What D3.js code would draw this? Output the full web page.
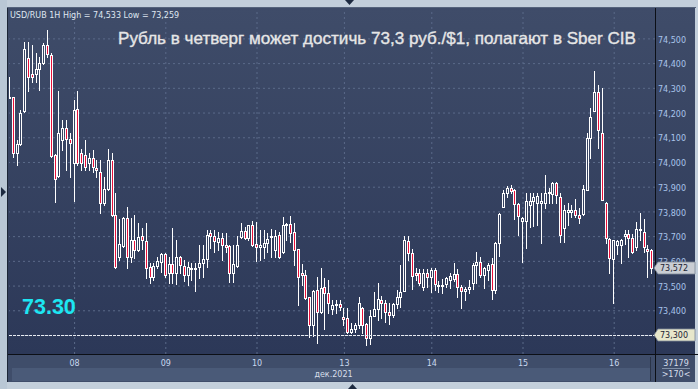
<!DOCTYPE html>
<html><head><meta charset="utf-8">
<script src="https://cdn.jsdelivr.net/npm/d3@7"></script>
<style>html,body{margin:0;padding:0;background:#c3cfdb;overflow:hidden}svg{display:block}</style>
</head><body><svg id="c" width="698" height="389"></svg>
<script>
const open=[
74.263,74.263,74.036,74.073,74.206,74.420,74.356,74.356,74.376,74.400,
74.473,74.433,74.028,73.943,74.089,74.137,74.093,73.996,74.214,74.036,
74.028,73.996,74.016,73.976,73.959,73.834,73.891,74.008,73.785,73.616,
73.660,73.773,73.616,73.684,73.644,73.700,73.680,73.575,73.535,73.579,
73.595,73.628,73.551,73.587,73.551,73.616,73.579,73.543,73.567,73.567,
73.575,73.591,73.607,73.713,73.700,73.676,73.692,73.664,73.660,73.551,
73.579,73.696,73.721,73.692,73.745,73.668,73.656,73.656,73.672,73.696,
73.644,73.705,73.636,73.745,73.749,73.717,73.648,73.551,73.543,73.454,
73.340,73.482,73.393,73.494,73.470,73.405,73.421,73.425,73.373,73.369,
73.312,73.324,73.340,73.409,73.344,73.288,73.377,73.405,73.442,73.429,
73.393,73.381,73.425,73.454,73.478,73.680,73.632,73.551,73.551,73.494,
73.551,73.535,73.563,73.498,73.498,73.506,73.522,73.527,73.547,73.494,
73.478,73.486,73.510,73.583,73.595,73.543,73.563,73.587,73.482,73.672,
73.818,73.874,73.895,73.887,73.830,73.761,73.761,73.826,73.842,73.834,
73.834,73.834,73.874,73.870,73.915,73.858,73.733,73.798,73.798,73.806,
73.785,73.789,73.887,74.097,74.206,74.283,74.117,73.834,73.688,73.607,
73.664,73.664,73.700,73.709,73.692,73.656,73.725,73.717,73.648,73.644];
const close=[
74.263,74.036,74.073,74.198,74.457,74.344,74.344,74.376,74.400,74.473,
74.437,74.024,73.931,74.117,74.137,74.093,74.077,74.210,73.996,73.996,
73.980,74.016,73.980,73.967,73.834,73.891,74.008,73.785,73.575,73.668,
73.773,73.616,73.684,73.644,73.696,73.684,73.571,73.535,73.579,73.599,
73.628,73.543,73.587,73.551,73.616,73.583,73.543,73.575,73.571,73.571,
73.591,73.607,73.705,73.700,73.680,73.692,73.664,73.656,73.551,73.587,
73.664,73.721,73.692,73.745,73.664,73.656,73.664,73.672,73.688,73.700,
73.700,73.616,73.745,73.749,73.713,73.644,73.535,73.543,73.450,73.340,
73.478,73.393,73.490,73.470,73.429,73.421,73.425,73.413,73.365,73.312,
73.324,73.340,73.429,73.340,73.288,73.377,73.405,73.446,73.429,73.393,
73.381,73.425,73.454,73.474,73.684,73.632,73.539,73.543,73.510,73.551,
73.535,73.563,73.506,73.502,73.502,73.531,73.539,73.547,73.494,73.478,
73.486,73.494,73.583,73.595,73.543,73.571,73.583,73.482,73.672,73.789,
73.874,73.895,73.882,73.830,73.781,73.773,73.842,73.842,73.858,73.862,
73.842,73.874,73.878,73.915,73.866,73.705,73.806,73.806,73.806,73.785,
73.773,73.891,74.097,74.182,74.283,74.129,73.846,73.692,73.611,73.684,
73.680,73.684,73.709,73.692,73.636,73.729,73.729,73.656,73.640,73.572];
const high=[
74.344,74.263,74.089,74.210,74.485,74.485,74.473,74.441,74.425,74.481,
74.533,74.441,74.032,74.287,74.170,74.170,74.117,74.251,74.287,74.052,
74.089,74.036,74.048,74.008,74.008,73.939,74.052,74.036,73.874,73.769,
73.777,73.818,73.773,73.785,73.753,73.733,73.753,73.591,73.591,73.616,
73.632,73.632,73.616,73.733,73.684,73.620,73.603,73.595,73.591,73.591,
73.664,73.664,73.725,73.725,73.725,73.717,73.713,73.713,73.664,73.664,
73.700,73.753,73.737,73.745,73.761,73.757,73.725,73.725,73.713,73.729,
73.725,73.717,73.777,73.753,73.781,73.753,73.648,73.587,73.563,73.454,
73.482,73.535,73.571,73.531,73.522,73.442,73.442,73.442,73.409,73.409,
73.349,73.349,73.454,73.413,73.349,73.401,73.474,73.510,73.458,73.442,
73.429,73.429,73.482,73.583,73.700,73.700,73.648,73.571,73.567,73.567,
73.567,73.571,73.571,73.518,73.527,73.535,73.551,73.591,73.567,73.502,
73.494,73.522,73.591,73.636,73.616,73.575,73.591,73.611,73.676,73.793,
73.887,73.903,73.907,73.891,73.834,73.777,73.874,73.874,73.874,73.874,
73.874,73.947,73.895,73.919,73.919,73.874,73.826,73.834,73.826,73.850,
73.814,73.907,74.117,74.218,74.368,74.311,74.299,73.838,73.692,73.684,
73.684,73.688,73.725,73.725,73.709,73.757,73.793,73.769,73.664,73.648];
const low=[
74.263,74.020,73.988,74.069,74.202,74.287,74.323,74.323,74.291,74.396,
74.425,74.020,73.838,73.939,74.048,73.967,73.939,73.842,73.988,73.967,
73.967,73.967,73.959,73.939,73.793,73.826,73.887,73.781,73.571,73.603,
73.656,73.571,73.595,73.611,73.640,73.648,73.531,73.510,73.522,73.571,
73.555,73.535,73.510,73.510,73.506,73.551,73.518,73.502,73.522,73.478,
73.531,73.535,73.575,73.652,73.636,73.644,73.603,73.636,73.514,73.514,
73.575,73.692,73.688,73.684,73.660,73.599,73.603,73.611,73.636,73.616,
73.616,73.611,73.632,73.684,73.676,73.583,73.421,73.502,73.446,73.292,
73.296,73.268,73.389,73.324,73.389,73.385,73.389,73.401,73.340,73.308,
73.308,73.312,73.328,73.308,73.259,73.262,73.377,73.361,73.369,73.353,
73.344,73.373,73.409,73.413,73.478,73.603,73.486,73.522,73.502,73.482,
73.494,73.474,73.482,73.474,73.470,73.494,73.490,73.518,73.454,73.409,
73.442,73.470,73.486,73.510,73.535,73.490,73.522,73.446,73.470,73.620,
73.818,73.858,73.874,73.769,73.705,73.595,73.652,73.737,73.741,73.745,
73.672,73.814,73.834,73.834,73.834,73.676,73.676,73.745,73.777,73.777,
73.753,73.785,73.887,74.016,74.206,74.056,73.846,73.672,73.551,73.429,
73.628,73.591,73.668,73.616,73.632,73.644,73.684,73.636,73.535,73.551];
const dayLabels=["08","09","10","13","14","15","16"];
const dayIndex=[17,41,65,88,111,135,159];
const yTicks=[73.3,73.4,73.5,73.6,73.7,73.8,73.9,74.0,74.1,74.2,74.3,74.4,74.5];
const lastPrice=73.572, markPrice=73.300;
const titleText="Рубль в четверг может достичь 73,3 руб./$1, полагают в Sber CIB";
const headerText="USD/RUB 1H High = 74,533 Low = 73,259";
const monthLabel="дек.2021";
const volText="37179", barsText=">170<";

const svg=d3.select("#c");
const defs=svg.append("defs");
const gr=defs.append("linearGradient").attr("id","bg").attr("gradientUnits","userSpaceOnUse")
  .attr("x1",0).attr("y1",8).attr("x2",0).attr("y2",354);
gr.append("stop").attr("offset",0).attr("stop-color","#3f4c69");
gr.append("stop").attr("offset",1).attr("stop-color","#2c3858");
defs.append("clipPath").attr("id","clip").append("rect").attr("x",9).attr("y",9).attr("width",646).attr("height",345);

const x=d3.scaleLinear().domain([0,open.length-1]).range([9.5,651.7]);
const y=d3.scaleLinear().domain([73.3,74.5]).range([335,38.4]);
const fmt=d=>d3.format(".3f")(d).replace(".",",");

// frame
svg.append("rect").attr("x",0).attr("y",0).attr("width",698).attr("height",389).attr("fill","#c3cfdb");
svg.append("rect").attr("x",0).attr("y",0).attr("width",7).attr("height",389).attr("fill","#b9c7d5");
svg.append("rect").attr("x",8).attr("y",8).attr("width",687).attr("height",374).attr("fill","url(#bg)");
svg.append("rect").attr("x",8).attr("y",355).attr("width",687).attr("height",27).attr("fill","#3f4d6a");
svg.append("rect").attr("x",12).attr("y",368).attr("width",638).attr("height",13).attr("fill","#4a5a78");
svg.append("line").attr("x1",7.5).attr("x2",7.5).attr("y1",7).attr("y2",382).attr("stroke","#1c2636");
svg.append("line").attr("x1",7).attr("x2",696).attr("y1",7.5).attr("y2",7.5).attr("stroke","#56647c");
svg.append("line").attr("x1",650.5).attr("x2",650.5).attr("y1",357).attr("y2",381).attr("stroke","#2a3448");

// grid
const gx=svg.append("g").attr("clip-path","url(#clip)");
gx.append("g").attr("transform","translate(655,0)")
  .call(d3.axisLeft(y).tickValues(yTicks).tickSize(646).tickFormat(""))
  .call(g=>{g.select(".domain").remove();g.selectAll("line").attr("stroke","#5b6a89").attr("stroke-dasharray","2,3");});
gx.append("g").attr("transform","translate(0,354)")
  .call(d3.axisTop(x).tickValues(dayIndex).tickSize(346).tickFormat(""))
  .call(g=>{g.select(".domain").remove();g.selectAll("line").attr("stroke","#5b6a89").attr("stroke-dasharray","2,3");});

// candles (pixel-snapped: 1px wick, 3px body with 1px white border)
const data=open.map((o,i)=>({i,o,c:close[i],h:high[i],l:low[i]}));
const cg=svg.append("g").attr("clip-path","url(#clip)").attr("shape-rendering","crispEdges");
const cand=cg.selectAll("g.k").data(data).join("g").attr("class","k")
  .attr("transform",d=>`translate(${Math.floor(x(d.i))},0)`);
const bTop=d=>Math.round(y(Math.max(d.o,d.c)));
const bBot=d=>Math.round(y(Math.min(d.o,d.c)));
cand.append("rect").attr("x",0).attr("width",1)
  .attr("y",d=>Math.round(y(d.h))).attr("height",d=>Math.round(y(d.l))-Math.round(y(d.h))+1)
  .attr("fill","#ffffff");
cand.append("rect").attr("x",-1).attr("width",3)
  .attr("y",bTop).attr("height",d=>Math.max(2,bBot(d)-bTop(d)+1))
  .attr("fill","#ffffff");
cand.filter(d=>bBot(d)-bTop(d)>=2).append("rect").attr("x",0).attr("width",1)
  .attr("y",d=>bTop(d)+1).attr("height",d=>bBot(d)-bTop(d)-1)
  .attr("fill",d=>d.c<d.o?"#e8103a":"url(#bg)");

// dotted 73.300 line
svg.append("line").attr("x1",9).attr("x2",655).attr("y1",Math.round(y(markPrice))+0.5).attr("y2",Math.round(y(markPrice))+0.5)
  .attr("stroke","#e8ecf2").attr("stroke-dasharray","3,1");

// borders of plot
svg.append("line").attr("x1",655.5).attr("x2",655.5).attr("y1",8).attr("y2",382).attr("stroke","#0c0f16");
svg.append("line").attr("x1",8).attr("x2",698).attr("y1",354.5).attr("y2",354.5).attr("stroke","#0c0f16");

// right axis (the 73,300 tick label sits under its price box, as in the source)
svg.append("g").attr("transform","translate(656,0)")
  .call(d3.axisRight(y).tickValues(yTicks.filter(v=>v!==markPrice)).tickSize(0).tickPadding(2).tickFormat(fmt))
  .call(g=>{g.select(".domain").remove();
    g.selectAll("text").attr("fill","#a9c4ea").attr("font-family","DejaVu Sans").attr("font-size","8px").attr("dy","0.45em");});

// bottom axis
svg.append("g").attr("transform","translate(0,355)")
  .call(d3.axisBottom(x).tickValues(dayIndex).tickSize(0).tickPadding(5).tickFormat((d,i)=>dayLabels[i]))
  .call(g=>{g.select(".domain").remove();
    g.selectAll("text").attr("fill","#c9d8ee").attr("font-family","DejaVu Sans").attr("font-size","8px");});
svg.append("text").attr("x",333.5).attr("y",377).attr("text-anchor","middle").attr("fill","#d6deea")
  .attr("font-family","DejaVu Sans").attr("font-size","8px").text(monthLabel);

// price boxes
function priceBox(v,fill){
  const yy=Math.round(y(v));
  svg.append("path").attr("d",`M654,${yy} L658,${yy-6} L695,${yy-6} L695,${yy+6} L658,${yy+6} Z`)
    .attr("fill",fill).attr("stroke","#7d8898").attr("stroke-width",0.8);
  svg.append("text").attr("x",660).attr("y",yy).attr("dy","0.4em").attr("fill","#1b2232")
    .attr("font-family","DejaVu Sans").attr("font-size","8px").text(fmt(v));
}
priceBox(lastPrice,"#c9cdd3");
priceBox(markPrice,"#e7e7cb");

// bottom-right info
svg.append("text").attr("x",676).attr("y",365.5).attr("text-anchor","middle").attr("fill","#d6deea")
  .attr("font-family","DejaVu Sans").attr("font-size","8px").text(volText);
svg.append("line").attr("x1",662).attr("x2",690).attr("y1",368.5).attr("y2",368.5).attr("stroke","#8090a8");
svg.append("text").attr("x",676).attr("y",377).attr("text-anchor","middle").attr("fill","#d6deea")
  .attr("font-family","DejaVu Sans").attr("font-size","8px").text(barsText);

// texts
svg.append("text").attr("x",10).attr("y",18).attr("fill","#dfe7f1")
  .attr("font-family","DejaVu Sans").attr("font-size","8px").text(headerText);
svg.append("text").attr("x",118).attr("y",44).attr("fill","#e6e6e6")
  .attr("stroke","#e6e6e6").attr("stroke-width",0.35)
  .attr("font-family","Liberation Sans, Arial, sans-serif").attr("font-size","16.5px")
  .attr("textLength",518).attr("lengthAdjust","spacingAndGlyphs").text(titleText);
svg.append("text").attr("x",22).attr("y",314).attr("fill","#1de6f2")
  .attr("font-family","Liberation Sans, Arial, sans-serif").attr("font-weight","bold").attr("font-size","21.5px").text("73.30");

// small triangles
svg.append("path").attr("d","M345,0 L354,0 L349.5,5 Z").attr("fill","#1d2a40");
svg.append("path").attr("d","M348,389 L357,389 L352.5,384 Z").attr("fill","#1d2a40");
svg.append("path").attr("d","M1,187 L1,197 L6,192 Z").attr("fill","#1d2a40");
</script></body></html>
